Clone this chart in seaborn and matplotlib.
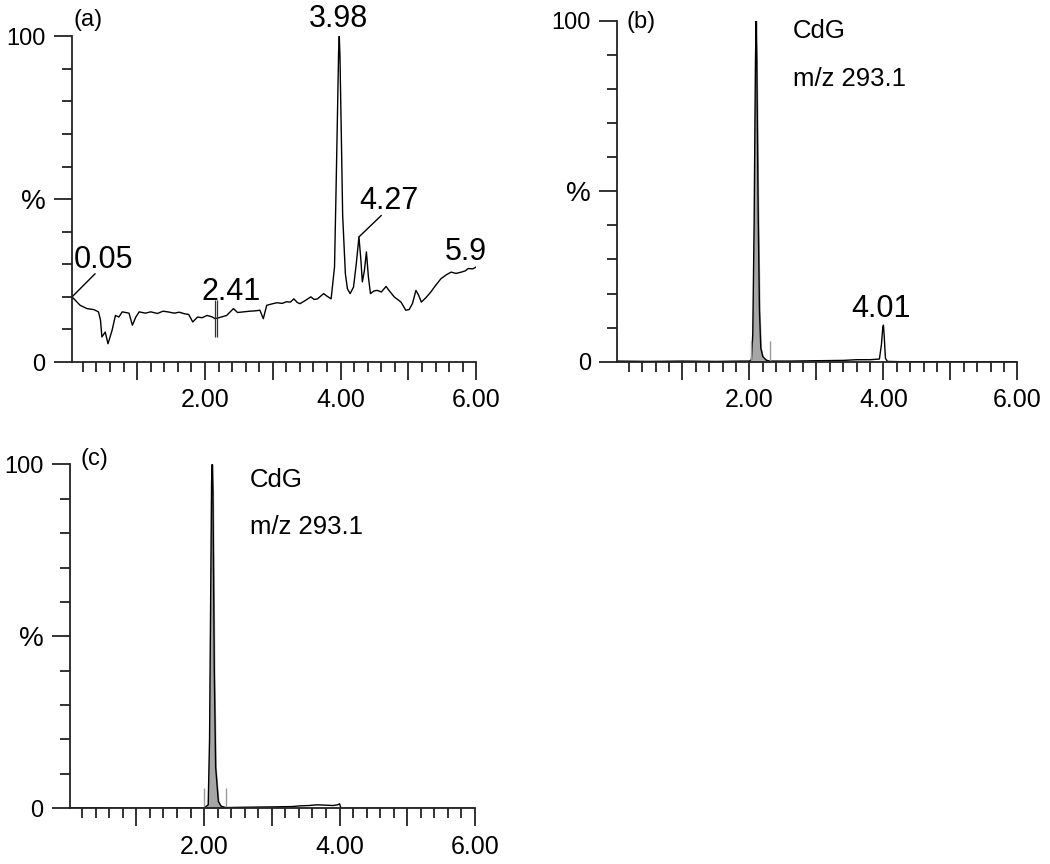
import matplotlib
matplotlib.use("Agg")
import matplotlib.pyplot as plt
from matplotlib.ticker import MultipleLocator, FixedLocator
import seaborn as sns

sns.set_style("ticks")
plt.rcParams['font.family'] = ['Liberation Sans', 'DejaVu Sans']
plt.rcParams['text.color'] = 'black'
plt.rcParams['xtick.labelcolor'] = 'black'
plt.rcParams['ytick.labelcolor'] = 'black'

# panel (a): total chromatogram
time_a = [0.04, 0.16, 0.26, 0.36, 0.43, 0.46, 0.48, 0.53, 0.57, 0.63, 0.68, 0.73, 0.78,
          0.88, 0.93, 0.98, 1.03, 1.12, 1.20, 1.30, 1.38, 1.45, 1.55, 1.62, 1.70, 1.76,
          1.82, 1.89, 1.96, 2.03, 2.10, 2.15, 2.24, 2.32, 2.42, 2.48, 2.57, 2.66, 2.74,
          2.81, 2.86, 2.91, 2.98, 3.06, 3.14, 3.20, 3.26, 3.31, 3.36, 3.40, 3.48, 3.56,
          3.61, 3.66, 3.71, 3.75, 3.80, 3.86, 3.91, 3.93, 3.95, 3.97, 3.98, 3.99, 4.01,
          4.03, 4.07, 4.10, 4.14, 4.19, 4.23, 4.27, 4.30, 4.32, 4.35, 4.38, 4.41, 4.44,
          4.49, 4.54, 4.60, 4.67, 4.72, 4.79, 4.84, 4.89, 4.96, 5.01, 5.06, 5.11, 5.15,
          5.19, 5.26, 5.33, 5.40, 5.48, 5.56, 5.63, 5.70, 5.78, 5.84, 5.88, 5.95, 6.00]
int_a = [20.0, 17.4, 16.4, 16.1, 15.4, 12.8, 7.7, 9.2, 5.6, 9.7, 14.3, 13.8, 15.4,
         15.0, 11.3, 13.8, 15.4, 15.0, 15.4, 14.9, 15.6, 15.4, 15.0, 15.3, 14.8, 14.6,
         12.3, 13.8, 13.6, 14.3, 13.9, 13.3, 13.8, 14.3, 16.4, 15.2, 15.4, 15.6, 15.7,
         15.9, 13.3, 17.4, 17.8, 18.2, 18.0, 18.5, 18.4, 19.4, 18.3, 17.9, 18.9, 20.0,
         19.2, 19.4, 20.3, 21.0, 20.2, 19.4, 29.2, 50.0, 72.0, 95.0, 100.0, 94.0, 70.0,
         45.0, 27.1, 22.5, 21.0, 23.0, 30.0, 38.4, 31.0, 24.6, 28.0, 33.8, 26.0, 21.0,
         21.8, 22.0, 21.5, 23.2, 21.8, 20.0, 19.2, 18.4, 15.9, 16.1, 18.0, 22.0, 20.5,
         18.4, 19.8, 21.5, 23.5, 25.6, 26.8, 27.6, 27.2, 27.6, 28.0, 28.7, 28.6, 29.2]

# panel (b): CdG m/z 293.1
time_b = [0.03, 0.50, 1.00, 1.50, 1.90, 2.00, 2.03, 2.05, 2.07, 2.09, 2.10, 2.11, 2.13,
          2.15, 2.17, 2.20, 2.25, 2.30, 2.60, 3.00, 3.40, 3.60, 3.80, 3.94, 3.97, 3.99,
          4.00, 4.01, 4.03, 4.06, 4.30, 5.00, 6.00]
int_b = [0.2, 0.1, 0.2, 0.1, 0.2, 0.2, 0.6, 8.0, 40.0, 88.0, 100.0, 88.0, 45.0,
         15.0, 4.0, 1.5, 0.5, 0.2, 0.2, 0.3, 0.4, 0.6, 0.6, 0.8, 5.0, 10.0,
         10.75, 8.0, 1.0, 0.1, 0.0, 0.0, 0.0]

# panel (c): CdG m/z 293.1
time_c = [0.02, 0.50, 1.00, 1.50, 1.90, 2.00, 2.06, 2.08, 2.10, 2.11, 2.12, 2.13, 2.15,
          2.17, 2.21, 2.25, 2.32, 2.60, 3.00, 3.30, 3.42, 3.55, 3.66, 3.80, 3.90, 3.97,
          4.00, 4.02, 4.10, 5.00, 6.00]
int_c = [0.1, 0.1, 0.0, 0.1, 0.1, 0.1, 1.0, 20.0, 70.0, 95.0, 100.0, 92.0, 40.0,
         12.0, 2.0, 0.6, 0.2, 0.3, 0.4, 0.5, 0.7, 0.8, 1.0, 0.9, 0.8, 1.0,
         1.3, 0.0, 0.0, 0.0, 0.0]

peak_labels_a = ["0.05", "2.41", "3.98", "4.27", "5.9"]
panel_names = ["(a)", "(b)", "(c)"]
trace_name = "CdG"
mz_label = "m/z 293.1"

fig = plt.figure(figsize=(10.5, 8.64), dpi=100)
ax_a = fig.add_axes([0.0686, 0.581, 0.385, 0.377])
ax_b = fig.add_axes([0.588, 0.5813, 0.381, 0.3947])
ax_c = fig.add_axes([0.0667, 0.0645, 0.3857, 0.398])


def style_axis(ax, x0):
    ax.set_xlim(x0, 6.0)
    ax.set_ylim(0, 100)
    sns.despine(ax=ax)
    for s in ["left", "bottom"]:
        ax.spines[s].set_linewidth(1.3)
        ax.spines[s].set_color("#222222")
    ax.xaxis.set_major_locator(FixedLocator([1, 2, 3, 4, 5, 6]))
    ax.set_xticklabels(["", "2.00", "", "4.00", "", "6.00"])
    ax.xaxis.set_minor_locator(MultipleLocator(0.2))
    ax.yaxis.set_major_locator(FixedLocator([0, 50, 100]))
    ax.set_yticklabels(["0", "%", "100"])
    ax.yaxis.set_minor_locator(MultipleLocator(10))
    ax.tick_params(axis="both", which="major", length=13, width=1.3, color="#222222")
    ax.tick_params(axis="both", which="minor", length=7, width=1.3, color="#222222")
    ax.tick_params(axis="x", which="major", labelsize=18, pad=6)
    ax.tick_params(axis="y", which="major", labelsize=17, pad=6)
    ax.get_yticklabels()[1].set_fontsize(20)
    ax.set_xlabel("")
    ax.set_ylabel("")


# (a)
sns.lineplot(x=time_a, y=int_a, ax=ax_a, color="black", linewidth=1.0)
style_axis(ax_a, 0.04)
ax_a.vlines([2.15, 2.175], 7.7, 18.9, color="#333333", linewidth=0.9)
ax_a.plot([0.04, 0.38], [20.0, 27.1], color="black", linewidth=1.0)
ax_a.plot([4.27, 4.60], [38.4, 45.0], color="black", linewidth=1.0)
ax_a.text(0.06, 29.0, peak_labels_a[0], fontsize=22, ha="left", va="baseline")
ax_a.text(2.39, 18.9, peak_labels_a[1], fontsize=22, ha="center", va="baseline")
ax_a.text(3.97, 102.8, peak_labels_a[2], fontsize=22, ha="center", va="baseline", clip_on=False)
ax_a.text(4.28, 47.0, peak_labels_a[3], fontsize=22, ha="left", va="baseline")
ax_a.text(5.85, 31.2, peak_labels_a[4], fontsize=22, ha="center", va="baseline")
ax_a.text(0.06, 105, panel_names[0], fontsize=17, ha="left", va="center", clip_on=False)

# (b)
sns.lineplot(x=time_b, y=int_b, ax=ax_b, color="black", linewidth=1.0)
style_axis(ax_b, 0.03)
ax_b.fill_between(time_b[5:18], int_b[5:18], color="#a6a6a6")
ax_b.vlines([2.02, 2.30], 0, 6, color="#999999", linewidth=1.0)
ax_b.text(3.96, 13.2, "4.01", fontsize=22, ha="center", va="baseline")
ax_b.text(0.16, 99.5, panel_names[1], fontsize=17, ha="left", va="center")
ax_b.text(2.65, 97, trace_name, fontsize=18.5, ha="left", va="center")
ax_b.text(2.65, 83, mz_label, fontsize=18.5, ha="left", va="center")

# (c)
sns.lineplot(x=time_c, y=int_c, ax=ax_c, color="black", linewidth=1.0)
style_axis(ax_c, 0.02)
ax_c.fill_between(time_c[5:17], int_c[5:17], color="#a6a6a6")
ax_c.vlines([2.00, 2.33], 0, 5.8, color="#999999", linewidth=1.0)
ax_c.text(0.17, 101.5, panel_names[2], fontsize=17, ha="left", va="center", clip_on=False)
ax_c.text(2.68, 95.4, trace_name, fontsize=18.5, ha="left", va="center")
ax_c.text(2.68, 81.9, mz_label, fontsize=18.5, ha="left", va="center")

fig.savefig("out.png", dpi=100)
